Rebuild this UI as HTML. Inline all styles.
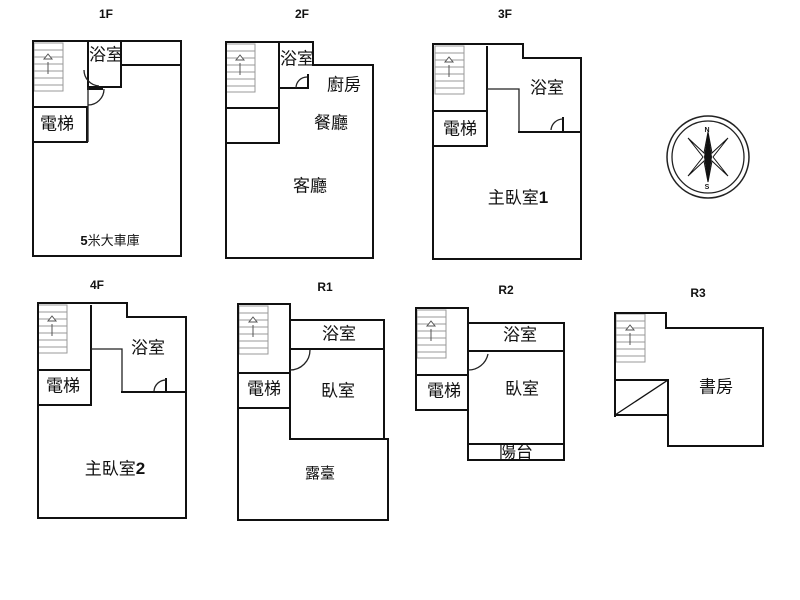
<!DOCTYPE html>
<html><head><meta charset="utf-8"><style>
html,body{margin:0;padding:0;background:#fff;}
svg{display:block}
text{font-family:"Liberation Sans","Noto Sans CJK TC",sans-serif;fill:#111;}
.t{font-size:17px;text-anchor:middle;dominant-baseline:middle}
.h{font-size:12px;font-weight:bold;text-anchor:middle}
.w{stroke:#111;stroke-width:2;fill:none;stroke-linecap:square}
.n{stroke:#222;stroke-width:1.3;fill:none}
.s{stroke:#999;stroke-width:1;fill:none}
</style></head><body>
<svg width="800" height="600" viewBox="0 0 800 600" xmlns="http://www.w3.org/2000/svg">
<defs>
<g id="st">
<rect x="0" y="0" width="29" height="48" class="s"/>
<line x1="0" y1="7" x2="29" y2="7" class="s"/><line x1="0" y1="14" x2="29" y2="14" class="s"/>
<line x1="0" y1="21" x2="29" y2="21" class="s"/><line x1="0" y1="28" x2="29" y2="28" class="s"/>
<line x1="0" y1="35" x2="29" y2="35" class="s"/><line x1="0" y1="42" x2="29" y2="42" class="s"/>
<polygon points="14,11 10,16 18,16" fill="#fff" stroke="#555" stroke-width="1"/>
<line x1="14" y1="19" x2="14" y2="31" stroke="#555" stroke-width="1"/>
</g>
</defs>
<text class="h" x="106" y="18">1F</text>
<text class="h" x="302" y="18">2F</text>
<text class="h" x="505" y="18">3F</text>
<text class="h" x="97" y="289">4F</text>
<text class="h" x="325" y="291">R1</text>
<text class="h" x="506" y="294">R2</text>
<text class="h" x="698" y="297">R3</text>

<!-- 1F -->
<use href="#st" x="34" y="43"/>
<path class="w" d="M33,41 H181 V256 H33 Z"/>
<path class="w" d="M121,41 V87 H88 V41 M121,65 H181"/>
<path class="w" d="M33,107 H87 V142 H33 M88,89 H102"/>
<line class="n" x1="88" y1="87" x2="88" y2="142"/>
<path class="n" d="M88,105 A16,16 0 0 0 104,89 M99,86 A16,16 0 0 1 84,70"/>
<text class="t" x="106" y="56">浴室</text>
<text class="t" x="57" y="125">電梯</text>
<text x="110" y="245" style="font-size:13px;text-anchor:middle"><tspan font-weight="bold">5</tspan>米大車庫</text>

<!-- 2F -->
<use href="#st" x="226" y="44"/>
<path class="w" d="M226,42 H313 V65 H373 V258 H226 Z"/>
<path class="w" d="M279,42 V142 M279,88 H308 V75 M226,108 H279 M226,143 H279"/>
<path class="n" d="M296,88 A11,11 0 0 1 307,77"/>
<text class="t" x="297" y="60">浴室</text>
<text class="t" x="344" y="86">廚房</text>
<text class="t" x="331" y="124">餐廳</text>
<text class="t" x="310" y="187">客廳</text>

<!-- 3F -->
<use href="#st" x="435" y="46"/>
<path class="w" d="M433,44 H523 V58 H581 V259 H433 Z"/>
<path class="w" d="M487,47 V145 M433,111 H487 M433,146 H487"/>
<path class="n" d="M487,89 H519 V132 H581"/>
<path class="w" d="M519,132 H581 M563,132 V118"/>
<path class="n" d="M551,130 A12,12 0 0 1 563,119"/>
<text class="t" x="547" y="89">浴室</text>
<text class="t" x="460" y="130">電梯</text>
<text class="t" x="518" y="199">主臥室<tspan font-weight="bold">1</tspan></text>

<!-- compass -->
<circle cx="708" cy="157" r="41" fill="none" stroke="#222" stroke-width="1.5"/>
<circle cx="708" cy="157" r="36" fill="none" stroke="#222" stroke-width="1.3"/>
<polygon points="708,132 712,153 728,138 713,157 728,176 712,161 708,182 704,161 688,176 703,157 688,138 704,153" fill="#fff" stroke="#111" stroke-width="1"/>
<polygon points="708,132 712,157 708,182 704,157" fill="#111"/>
<text x="707" y="132" style="font-size:7px;font-weight:bold;text-anchor:middle">N</text>
<text x="707" y="189" style="font-size:7px;font-weight:bold;text-anchor:middle">S</text>

<!-- 4F -->
<use href="#st" x="38" y="305"/>
<path class="w" d="M38,303 H127 V317 H186 V518 H38 Z"/>
<path class="w" d="M91,306 V405 M38,370 H91 M38,405 H91"/>
<path class="n" d="M91,349 H122 V392"/>
<path class="w" d="M122,392 H186 M166,392 V379"/>
<path class="n" d="M154,391 A12,12 0 0 1 166,380"/>
<text class="t" x="148" y="349">浴室</text>
<text class="t" x="63" y="387">電梯</text>
<text class="t" x="115" y="470">主臥室<tspan font-weight="bold">2</tspan></text>

<!-- R1 -->
<use href="#st" x="239" y="306"/>
<path class="w" d="M238,304 H290 V439 M238,304 V520 H388 V439 H290"/>
<path class="w" d="M290,320 H384 V439 M290,349 H384 M238,373 H290 M238,408 H290"/>
<path class="n" d="M290,370 A20,20 0 0 0 310,350"/>
<text class="t" x="339" y="335">浴室</text>
<text class="t" x="338" y="392">臥室</text>
<text class="t" x="264" y="390">電梯</text>
<text x="320" y="474" style="font-size:15px;text-anchor:middle;dominant-baseline:middle">露臺</text>

<!-- R2 -->
<use href="#st" x="417" y="310"/>
<path class="w" d="M416,308 H468 V460 H564 V323 H468 M416,308 V410"/>
<path class="w" d="M468,351 H563 M468,444 H563 M416,375 H468 M416,410 H468"/>
<path class="n" d="M468,370 A20,20 0 0 0 488,354"/>
<text class="t" x="520" y="336">浴室</text>
<text class="t" x="522" y="390">臥室</text>
<text class="t" x="444" y="392">電梯</text>
<text class="t" x="516" y="453">陽台</text>

<!-- R3 -->
<use href="#st" x="616" y="314"/>
<path class="w" d="M615,313 H666 V328 H763 V446 H668 V380 M615,313 V416"/>
<path class="w" d="M615,380 H668 M615,415 H668"/>
<line x1="615" y1="415" x2="668" y2="380" stroke="#111" stroke-width="1.3"/>
<text class="t" x="716" y="388">書房</text>
</svg>
</body></html>
